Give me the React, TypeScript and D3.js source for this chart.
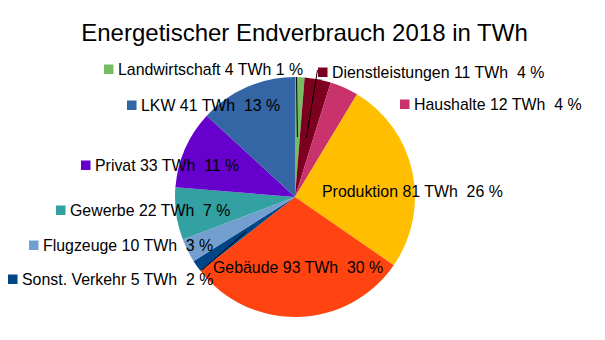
import React from "react";
import * as d3 from "d3";

const categories = [
  "Landwirtschaft",
  "Dienstleistungen",
  "Haushalte",
  "Produktion",
  "Gebäude",
  "Sonst. Verkehr",
  "Flugzeuge",
  "Gewerbe",
  "Privat",
  "LKW",
];
const values = [4, 11, 12, 81, 93, 5, 10, 22, 33, 41];
const colors = [
  "#77bc65",
  "#7e0021",
  "#c9326a",
  "#ffbf00",
  "#ff4412",
  "#004586",
  "#729fcf",
  "#33a1a1",
  "#6600cc",
  "#3465a4",
];
const title = "Energetischer Endverbrauch 2018 in TWh";

// layout: label text start x, baseline y, marker shown, separator
const labelLayout = [
  { x: 118, y: 75, marker: true, sep: " " },
  { x: 332, y: 78, marker: true, sep: "  " },
  { x: 414, y: 110, marker: true, sep: "  " },
  { x: 322, y: 197, marker: false, sep: "  " },
  { x: 213, y: 273, marker: false, sep: "  " },
  { x: 22, y: 285, marker: true, sep: "  " },
  { x: 43, y: 251, marker: true, sep: "  " },
  { x: 70, y: 216, marker: true, sep: "  " },
  { x: 95, y: 171, marker: true, sep: "  " },
  { x: 141, y: 111, marker: true, sep: "  " },
];
// leader line outer ends (only for some labels)
const leaders: { [k: number]: [number, number] } = {
  0: [296.5, 77],
  1: [317.5, 70],
  5: [202, 270],
};

export default function App() {
  const W = 605;
  const H = 340;
  const cx = 295;
  const cy = 197;
  const r = 120;
  const total = d3.sum(values);
  const pie = d3
    .pie<number>()
    .sort(null)
    .value((d) => d)
    .startAngle(0)
    .endAngle(2 * Math.PI);
  const arcs = pie(values);
  const arc = d3.arc<d3.PieArcDatum<number>>().innerRadius(0).outerRadius(r);
  const font = "'Liberation Sans', Arial, sans-serif";
  const fs = 15.9;

  return (
    <svg
      width={W}
      height={H}
      style={{ position: "absolute", left: 0, top: 0, background: "#fff" }}
    >
      <text
        x={W / 2 + 2}
        y={41}
        textAnchor="middle"
        fontFamily={font}
        fontSize={24}
        fill="#000"
      >
        {title}
      </text>
      <g transform={`translate(${cx},${cy})`}>
        {arcs.map((a, i) => (
          <path key={i} d={arc(a) || ""} fill={colors[i]} />
        ))}
      </g>
      {Object.keys(leaders).map((k) => {
        const i = +k;
        const c = arc.centroid(arcs[i]);
        const [lx, ly] = leaders[i];
        return (
          <line
            key={"l" + i}
            x1={cx + c[0]}
            y1={cy + c[1]}
            x2={lx}
            y2={ly}
            stroke="#000"
            strokeWidth={1}
          />
        );
      })}
      {categories.map((cat, i) => {
        const L = labelLayout[i];
        const pct = Math.round((values[i] / total) * 100);
        const txt = `${cat} ${values[i]} TWh${L.sep}${pct} %`;
        return (
          <g key={"t" + i}>
            {L.marker && (
              <rect
                x={L.x - 14}
                y={L.y - 10.5}
                width={9.5}
                height={9.5}
                fill={colors[i]}
              />
            )}
            <text
              x={L.x}
              y={L.y}
              fontFamily={font}
              fontSize={fs}
              fill="#000"
              style={{ whiteSpace: "pre" }}
            >
              {txt}
            </text>
          </g>
        );
      })}
    </svg>
  );
}
